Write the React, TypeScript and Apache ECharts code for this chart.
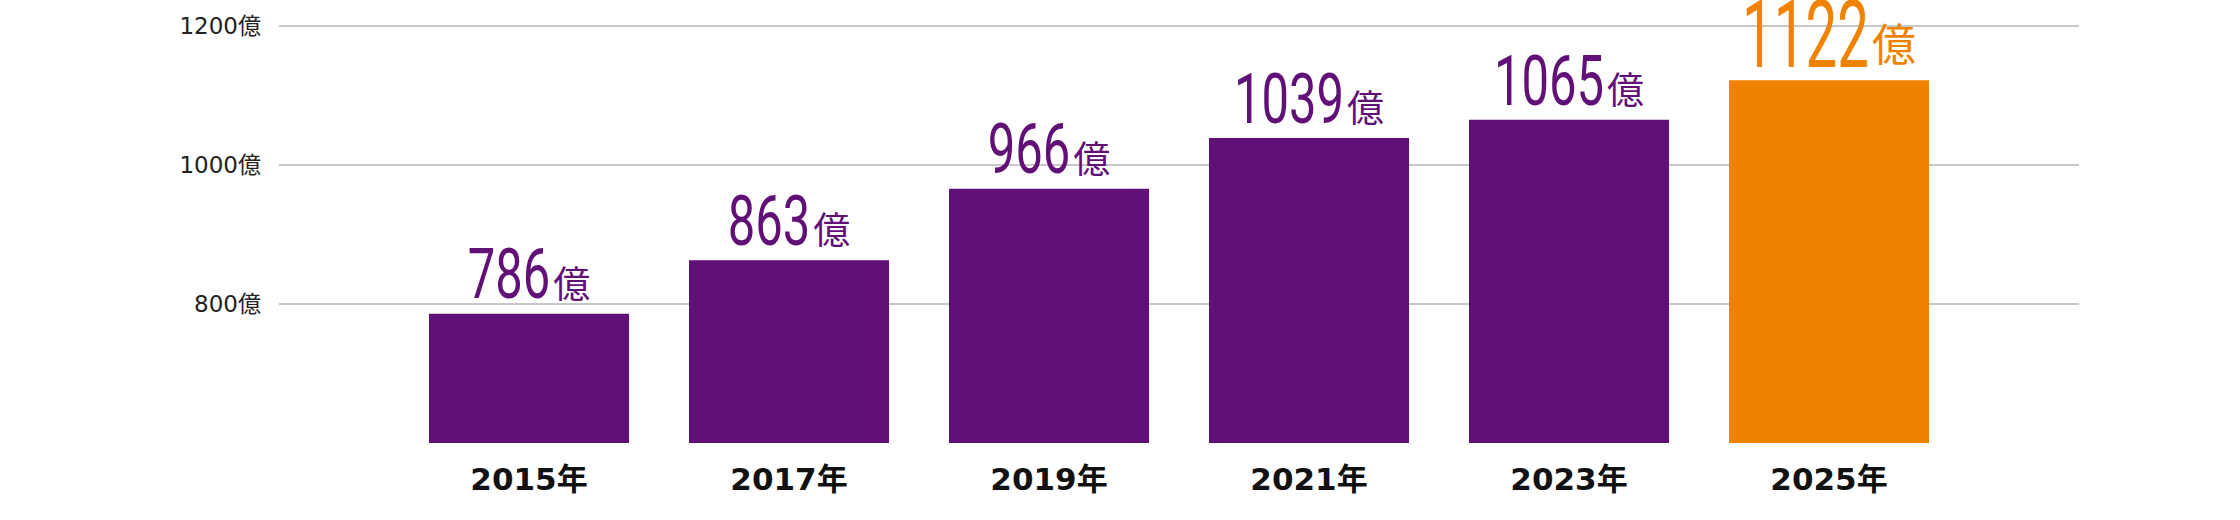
import React, { useEffect, useRef } from "react";
import * as echarts from "echarts";

const categories = ["2015年", "2017年", "2019年", "2021年", "2023年", "2025年"];
const values = [786, 863, 966, 1039, 1065, 1122];
const highlightIndex = 5;
const yTicks = [600, 800, 1000, 1200];
const unit = "億";

const PURPLE = "#611078";
const ORANGE = "#EF8300";

const NUM_FONT = "Roboto, sans-serif";
const CJK_FONT = "'Noto Sans CJK JP', sans-serif";

let measureCtx: CanvasRenderingContext2D | null = null;
function measure(text: string, font: string): number {
  if (!measureCtx) measureCtx = document.createElement("canvas").getContext("2d");
  if (!measureCtx) return text.length * 20;
  measureCtx.font = font;
  return measureCtx.measureText(text).width;
}

export default function App() {
  const ref = useRef<HTMLDivElement>(null);
  useEffect(() => {
    if (!ref.current) return;
    const chart = echarts.init(ref.current, null, { renderer: "svg" });
    const data = values.map((v, i) => ({
      value: v,
      itemStyle: { color: i === highlightIndex ? ORANGE : PURPLE },
    }));
    const labelData = values.map((v, i) => [i, v]);

    const renderLabel = (params: any, api: any) => {
      const idx = api.value(0);
      const val = api.value(1);
      const hl = idx === highlightIndex;
      const pt = api.coord([idx, val]);
      const cx = pt[0];
      const top = pt[1];
      const numSize = hl ? 94 : 70;
      const uSize = hl ? 44 : 37;
      const sx = hl ? 0.6 : 0.7;
      const color = hl ? ORANGE : PURPLE;
      const numFont = `${numSize}px ${NUM_FONT}`;
      const uFont = `${uSize}px ${CJK_FONT}`;
      const numText = String(val);
      const nw = measure(numText, numFont) * sx;
      const uw = measure(unit, uFont);
      const gap = 3;
      const total = nw + gap + uw;
      const left = cx - total / 2;
      const numCenter = top - (hl ? 45 : 39);
      const uCenter = top - (hl ? 38 : 32);
      return {
        type: "group",
        children: [
          {
            type: "text",
            x: left,
            y: numCenter,
            scaleX: sx,
            style: {
              text: numText,
              font: numFont,
              fill: color,
              align: "left",
              verticalAlign: "middle",
              lineHeight: Math.round(numSize * 0.74),
            },
          },
          {
            type: "text",
            x: left + nw + gap,
            y: uCenter,
            style: {
              text: unit,
              font: uFont,
              fill: color,
              align: "left",
              verticalAlign: "middle",
              lineHeight: Math.round(uSize * 0.95),
            },
          },
        ],
      };
    };

    chart.setOption({
      animation: false,
      backgroundColor: "#ffffff",
      grid: [
        { left: 279, right: 161, top: 26, bottom: 77 },
        { left: 399, right: 281, top: 26, bottom: 77 },
      ],
      xAxis: [
        { type: "category", gridIndex: 0, data: categories, show: false },
        {
          type: "category",
          gridIndex: 1,
          data: categories,
          axisLine: { show: false },
          axisTick: { show: false },
          axisLabel: {
            margin: 20,
            fontSize: 31,
            fontWeight: "bold",
            color: "#111111",
            fontFamily: "'DejaVu Sans', 'Noto Sans CJK JP', sans-serif",
          },
        },
      ],
      yAxis: [
        {
          type: "value",
          gridIndex: 0,
          min: yTicks[0],
          max: yTicks[yTicks.length - 1],
          interval: yTicks[1] - yTicks[0],
          axisLine: { show: false },
          axisTick: { show: false },
          splitLine: { show: true, showMinLine: false, lineStyle: { color: "#c8c8c8", width: 2 } },
          axisLabel: {
            showMinLabel: false,
            margin: 18,
            fontSize: 23,
            color: "#222222",
            fontFamily: "'DejaVu Sans', 'Noto Sans CJK JP', sans-serif",
            formatter: (v: number) => (v === yTicks[0] ? "" : `${v}${unit}`),
          },
        },
        {
          type: "value",
          gridIndex: 1,
          min: yTicks[0],
          max: yTicks[yTicks.length - 1],
          interval: yTicks[1] - yTicks[0],
          show: false,
          splitLine: { show: false },
        },
      ],
      series: [
        {
          type: "bar",
          xAxisIndex: 1,
          yAxisIndex: 1,
          barWidth: 200,
          data,
        },
        {
          type: "custom",
          xAxisIndex: 1,
          yAxisIndex: 1,
          data: labelData,
          renderItem: renderLabel,
          z: 5,
        },
      ],
    });
    return () => chart.dispose();
  }, []);
  return (
    <div
      ref={ref}
      style={{ position: "fixed", left: 0, top: 0, width: 2240, height: 520, background: "#fff" }}
    />
  );
}
